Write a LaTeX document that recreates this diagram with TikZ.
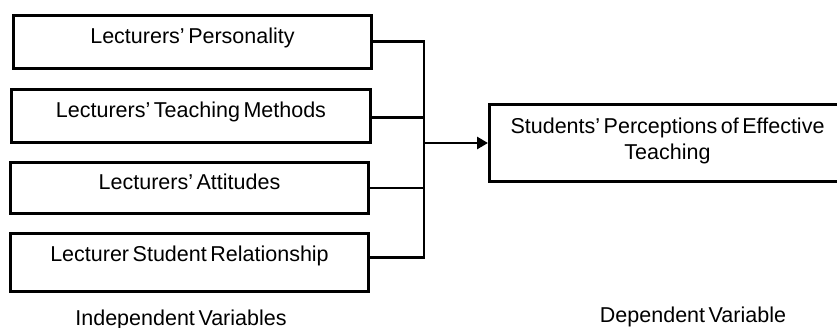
\documentclass[tikz,border=0pt]{standalone}
\usepackage{fontspec}
\setmainfont{Liberation Sans}[WordSpace=0.6]
\usetikzlibrary{arrows.meta}
\begin{document}
\begin{tikzpicture}[x=1pt,y=-1pt,
  every node/.style={font=\fontsize{21.5}{26}\selectfont},
  ivbox/.style={draw, line width=3pt, inner sep=0pt, minimum width=358pt, anchor=north west, text height=28pt},
  dvbox/.style={draw, line width=3pt, inner sep=0pt, minimum width=356pt, anchor=north west, text height=29pt, text depth=48pt},
  conn/.style={line width=2.8pt, line cap=rect},
  lbl/.style={anchor=base, inner sep=0pt}]
\useasboundingbox (0,0) rectangle (837,328);
\node[ivbox, text depth=25pt] (b1) at (12,14) {Lecturers’ Personality};
\node[ivbox, text depth=25pt, minimum width=359pt] (b2) at (10,88) {Lecturers’ Teaching Methods};
\node[ivbox, text height=27pt, text depth=24pt] (b3) at (9,161) {Lecturers’ Attitudes};
\node[ivbox, text depth=30pt] (b4) at (9,232) {Lecturer Student Relationship};
\node[dvbox] (dv) at (488,103) {\begin{tabular}[t]{@{}c@{}}Students’ Perceptions of Effective\\Teaching\end{tabular}};
\coordinate (jn) at (424,143);
\draw[conn] ([yshift=0.5pt]b1.east) -- ([yshift=0.5pt]b1.east -| jn) -- ([yshift=5pt]b4.east -| jn) -- ([yshift=5pt]b4.east);
\draw[conn] ([yshift=-1.5pt]b2.east) -- ([yshift=-1.5pt]b2.east -| jn);
\draw[conn] (b3.east) -- (b3.east -| jn);
\draw[line width=2.8pt, -{Triangle[length=11pt,width=12pt]}] (jn) -- (jn -| dv.west);
\node[lbl] (ivl) at (181,325) {Independent Variables};
\node[lbl] (dvl) at (693,322) {Dependent Variable};
\end{tikzpicture}
\end{document}
